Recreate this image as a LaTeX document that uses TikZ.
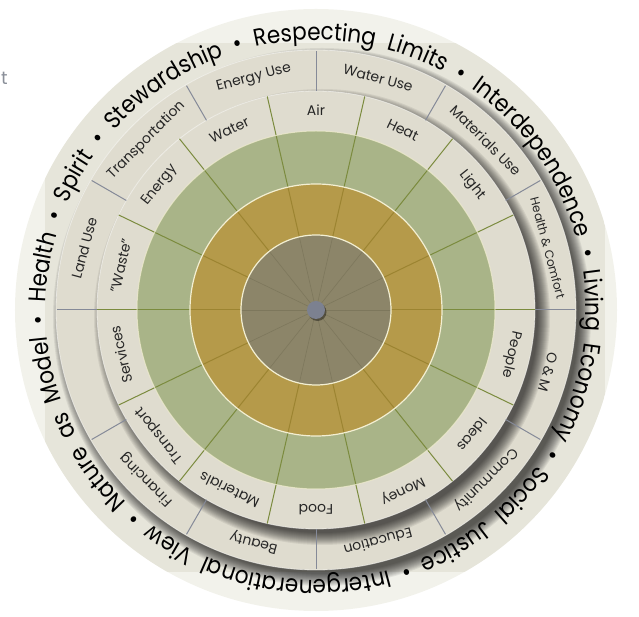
\documentclass[tikz,border=0pt]{standalone}
\usepackage{fontspec}
\setmainfont{Poppins}
\newfontfamily\rimfont[FakeStretch=0.9]{Poppins}
\usetikzlibrary{decorations.text}
\definecolor{hub}{HTML}{8C8569}
\definecolor{gold}{HTML}{B59A4A}
\definecolor{sage}{HTML}{A9B488}
\definecolor{band}{HTML}{DFDCCF}
\definecolor{rim}{HTML}{F2F2EB}
\definecolor{rimdark}{HTML}{E6E5DA}
\definecolor{cream}{HTML}{F3EFD2}
\definecolor{spokeg}{HTML}{7B8B3E}
\definecolor{spokey}{HTML}{9C8431}
\definecolor{spokeb}{HTML}{7D775C}
\definecolor{divider}{HTML}{858A98}
\definecolor{knob}{HTML}{7C8190}
\definecolor{ghost}{HTML}{8A8F99}
\begin{document}
\begin{tikzpicture}[
  lab/.style={font=\fontsize{14}{16}\selectfont, text=black!85, inner sep=0pt},
  small/.style={lab, font=\fontsize{12}{14}\selectfont},
  spoke/.style={line width=1pt}]
\useasboundingbox (-316pt,-307pt) rectangle (323pt,310pt);
\node[ghost, font=\fontsize{18}{20}\selectfont, anchor=west, inner sep=0pt] (stub) at (-315pt,232pt) {t};
\fill[rim] (0,0) circle (301pt);
\begin{scope}
  \clip (0,0) circle (301pt);
  \fill[rimdark] (-271pt,-262pt) rectangle (289pt,267pt);
\end{scope}
% two bands, each dropping a soft shadow to the lower right
\foreach \r in {260,219} {
  \foreach \i in {0,...,12}
    \fill[black, opacity=0.065] (6pt,-7pt) circle ({(\r+9-\i)*1pt});
  \fill[band] (0,0) circle ({\r*1pt});
  \draw[white, opacity=0.5, line width=0.8pt] (0,0) circle ({\r*1pt});
}
\fill[sage] (0,0) circle (179pt);
\fill[gold] (0,0) circle (126pt);
\fill[hub] (0,0) circle (75pt);
\foreach \a in {0,...,13} {
  \draw[spokeb, line width=0.6pt] (0,0) -- ({\a*360/14}:75pt);
  \draw[spokey, spoke] ({\a*360/14}:75pt) -- ({\a*360/14}:126pt);
  \draw[spokeg, spoke] ({\a*360/14}:126pt) -- ({\a*360/14}:219pt);
}
\foreach \a in {0,...,11}
  \draw[divider, spoke] (\a*30:219pt) -- (\a*30:259pt);
\draw[cream, line width=1.2pt] (0,0) circle (75pt) (0,0) circle (126pt);
\draw[cream, opacity=0.7, line width=1pt] (0,0) circle (179pt);
\fill[black, opacity=0.4] (1.5pt,-2pt) circle (9pt);
\fill[knob] (0,0) circle (9pt);
% what goes in
\foreach \k/\t in {1/Light, 2/Heat, 3/Air, 4/Water, 5/Energy, 6/{"Waste"}, 7/Services,
    8/Transport, 9/Materials, 10/Food, 11/Money, 12/Ideas, 13/People}
  \node[lab, rotate={(\k+0.5)*360/14-90}] (in\k) at ({(\k+0.5)*360/14}:200pt) {\t};
% what it touches
\foreach \k/\t in {1/Materials Use, 2/Water Use, 3/Energy Use, 4/Transportation, 5/Land Use,
    7/Financing, 8/Beauty, 9/Education, 10/Community, 11/O \& M}
  \node[lab, rotate={\k*30+15-90}] (out\k) at ({\k*30+15}:240pt) {\t};
\node[small, rotate=-75] (out0) at (15:240pt) {Health \& Comfort};
\path[decorate, decoration={text along path, text align={fit to path stretching spaces},
    text={|\rimfont\fontsize{24}{28}\selectfont|Health • Spirit • Stewardship • Respecting Limits • Interdependence • Living Economy • Social Justice • Intergenerational View • Nature as Model •}}]
  (178.5:270pt) arc[start angle=178.5, end angle=-178.8, radius=270pt];
\end{tikzpicture}
\end{document}
